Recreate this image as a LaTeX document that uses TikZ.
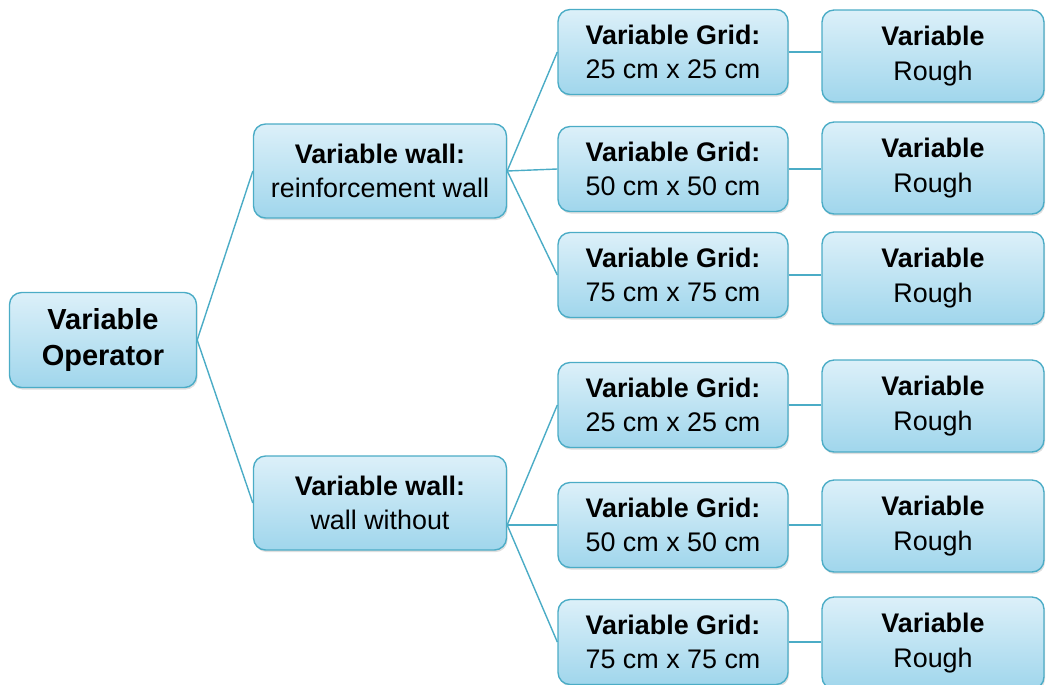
\documentclass[tikz,border=0pt]{standalone}
\usepackage{fontspec}
\setmainfont{Liberation Sans}
\usetikzlibrary{shadows}
\definecolor{boxline}{HTML}{4BACC6}
\definecolor{boxtop}{HTML}{DCF0F9}
\definecolor{boxbot}{HTML}{A0D6EC}

\tikzset{
  box/.style={draw=boxline, line width=0.8pt, rounded corners=0.24cm,
    top color=boxtop, bottom color=boxbot, align=center,
    drop shadow={opacity=0.25, shadow xshift=0.6pt, shadow yshift=-1.2pt},
    font=\fontsize{15.3}{19.5}\selectfont, inner sep=2pt},
  opbox/.style={box, minimum width=3.74cm, minimum height=1.9cm,
    font=\fontsize{16.5}{20}\selectfont\bfseries},
  wallbox/.style={box, minimum width=5.06cm, minimum height=1.88cm},
  gridbox/.style={box, minimum width=4.6cm, minimum height=1.7cm},
  roughbox/.style={box, minimum width=4.44cm, minimum height=1.84cm},
  link/.style={draw=boxline, line width=0.8pt}
}

\begin{document}
\begin{tikzpicture}[x=0.02cm, y=-0.02cm]
\useasboundingbox (0,0) rectangle (1046,684);

% left part
\node[opbox] (op) at (103,340) {Variable\\Operator};
\node[wallbox] (w1) at (380,171) {\textbf{Variable wall:}\\reinforcement wall};
\node[wallbox] (w2) at (380,503) {\textbf{Variable wall:}\\wall without};

% grid column
\node[gridbox] (g1) at (673,52) {\textbf{Variable Grid:}\\25 cm x 25 cm};
\node[gridbox] (g2) at (673,169) {\textbf{Variable Grid:}\\50 cm x 50 cm};
\node[gridbox] (g3) at (673,275) {\textbf{Variable Grid:}\\75 cm x 75 cm};
\node[gridbox] (g4) at (673,405) {\textbf{Variable Grid:}\\25 cm x 25 cm};
\node[gridbox] (g5) at (673,525) {\textbf{Variable Grid:}\\50 cm x 50 cm};
\node[gridbox] (g6) at (673,642) {\textbf{Variable Grid:}\\75 cm x 75 cm};

% rough column
\foreach \i/\y in {1/56,2/168,3/278,4/406,5/526,6/643}
  \node[roughbox] (r\i) at (933,\y) {\textbf{Variable}\\Rough};

% branch points
\coordinate (w1out) at (w1.east);
\coordinate (w2out) at (w2.east |- g5.west);

% connectors
\draw[link] (op.east) -- (w1.west);
\draw[link] (op.east) -- (w2.west);
\foreach \i in {1,2,3}
  \draw[link] (w1out) -- (g\i.west);
\foreach \i in {4,5,6}
  \draw[link] (w2out) -- (g\i.west);
\foreach \i in {1,...,6}
  \draw[link] (g\i.east) -- (g\i.east -| r\i.west);
\end{tikzpicture}
\end{document}
